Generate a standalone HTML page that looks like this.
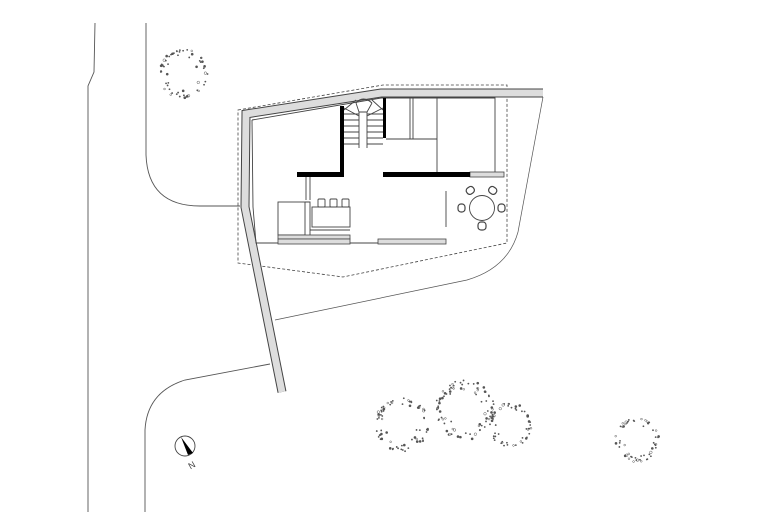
<!DOCTYPE html>
<html><head><meta charset="utf-8"><style>html,body{margin:0;padding:0;background:#fff}svg{display:block}</style></head>
<body>
<svg id="s" width="768" height="512" viewBox="0 0 768 512" xmlns="http://www.w3.org/2000/svg" font-family="Liberation Sans, sans-serif">
<g fill="none" stroke="#555" stroke-width="0.9">
<!-- roads -->
<path d="M95,23 L94,72 L88,86 L88,512"/>
<path d="M146,23 L146,155 Q148,206 200,206 L240,206"/>
<path d="M270,364 L185,380 Q147,392 145,430 L145,512"/>
<path d="M543,97 L518,232 Q508,268 467,280 L275,320" stroke-width="0.7"/>
</g>
<!-- dashed outline -->
<path d="M238,110 L383,85 L507,85 L507,243 L343,277 L238,263 Z" fill="none" stroke="#444" stroke-width="0.8" stroke-dasharray="3,2"/>
<!-- wall -->
<polyline points="543,93 381,93 246,114 245,207 282,392" fill="none" stroke="#444" stroke-width="9" stroke-linejoin="miter"/>
<polyline points="543,93 381,93 246,114 245,207 282,392" fill="none" stroke="#ddd" stroke-width="7" stroke-linejoin="miter"/>
<g fill="none" stroke="#444" stroke-width="0.9">
<!-- inner lines -->
<polyline points="252,120 381,98 495,98 495,173"/>
<polyline points="252,120 253,207 256,243 440,243"/>
<path d="M410,98 V139 M413,98 V139 M437,98 V172 M386,139 H437"/>
<path d="M306,177 V200 M310,177 V200"/>
<path d="M446,191 V227"/>
<!-- stairs -->
<path d="M344,110 L356,100 M383,110 L372,100 M356,103 Q363,95 372,103 M356,103 L359,112 L367,112 L372,103 M359,112 V148 M367,112 V148"/>
<path d="M344,114 H359 M344,120 H359 M344,126 H359 M344,132 H359 M344,138 H359 M344,144 H359 M367,114 H383 M367,120 H383 M367,126 H383 M367,132 H383 M367,138 H383 M367,144 H383 M344,108 L359,116 M383,108 L367,116"/>
<!-- kitchen -->
<rect x="278" y="202" width="27" height="33"/>
<rect x="312" y="207" width="38" height="20"/>
<path d="M305,202 H310 V235 M310,230 H350"/>
<rect x="318" y="199" width="7" height="8" rx="1"/>
<rect x="330" y="199" width="7" height="8" rx="1"/>
<rect x="342" y="199" width="7" height="8" rx="1"/>
<!-- table -->
<circle cx="482" cy="208" r="12.5"/>
</g>
<g fill="#ddd" stroke="#444" stroke-width="0.8">
<rect x="278" y="235" width="72" height="4"/>
<rect x="278" y="239" width="72" height="5"/>
<rect x="378" y="239" width="68" height="5"/>
<rect x="470" y="172" width="34" height="5"/>
</g>
<g fill="#fff" stroke="#444" stroke-width="1.2">
<rect x="466" y="187" width="8" height="7" rx="3" transform="rotate(-35 470 190)"/>
<rect x="489" y="187" width="8" height="7" rx="3" transform="rotate(35 493 190)"/>
<rect x="458" y="204" width="7" height="8" rx="3"/>
<rect x="498" y="204" width="7" height="8" rx="3"/>
<rect x="478" y="222" width="8" height="8" rx="3"/>
</g>
<g fill="#000">
<rect x="340" y="106" width="4" height="71"/>
<rect x="297" y="172" width="47" height="5"/>
<rect x="383" y="172" width="87" height="5"/>
<rect x="383" y="98" width="3" height="40"/>
</g>
<!-- compass -->
<circle cx="185" cy="446" r="10" fill="#fff" stroke="#444" stroke-width="0.9"/>
<polygon points="181,437 193,453 188,455" fill="#000"/>
<text x="188" y="468" font-size="9" fill="#444" transform="rotate(-30 192 464)">N</text>
<g id="trees" fill="#555"></g>
</svg>
<script>
var g=document.getElementById('trees');var seed=7;function r(){seed=(seed*16807)%2147483647;return seed/2147483647;}
[[183,74,25,60],[402,425,27,75],[465,410,30,85],[510,425,22,55],[637,440,22,55]].forEach(function(t){
for(var i=0;i<t[3];i++){var a=r()*6.283;var rr=t[2]*(0.55+0.45*Math.sqrt(r()));
if(Math.sin(a)<0&&r()<0.5)rr=t[2]*(0.85+0.15*r());
var c=document.createElementNS('http://www.w3.org/2000/svg','circle');
c.setAttribute('cx',t[0]+rr*Math.cos(a));c.setAttribute('cy',t[1]+rr*Math.sin(a)*(Math.sin(a)>0?1:1));c.setAttribute('r',r()<0.2?1.3:0.9);
if(r()<0.2){c.setAttribute('fill','none');c.setAttribute('stroke','#555');c.setAttribute('stroke-width','0.5');}
g.appendChild(c);}});
</script>
</body></html>
